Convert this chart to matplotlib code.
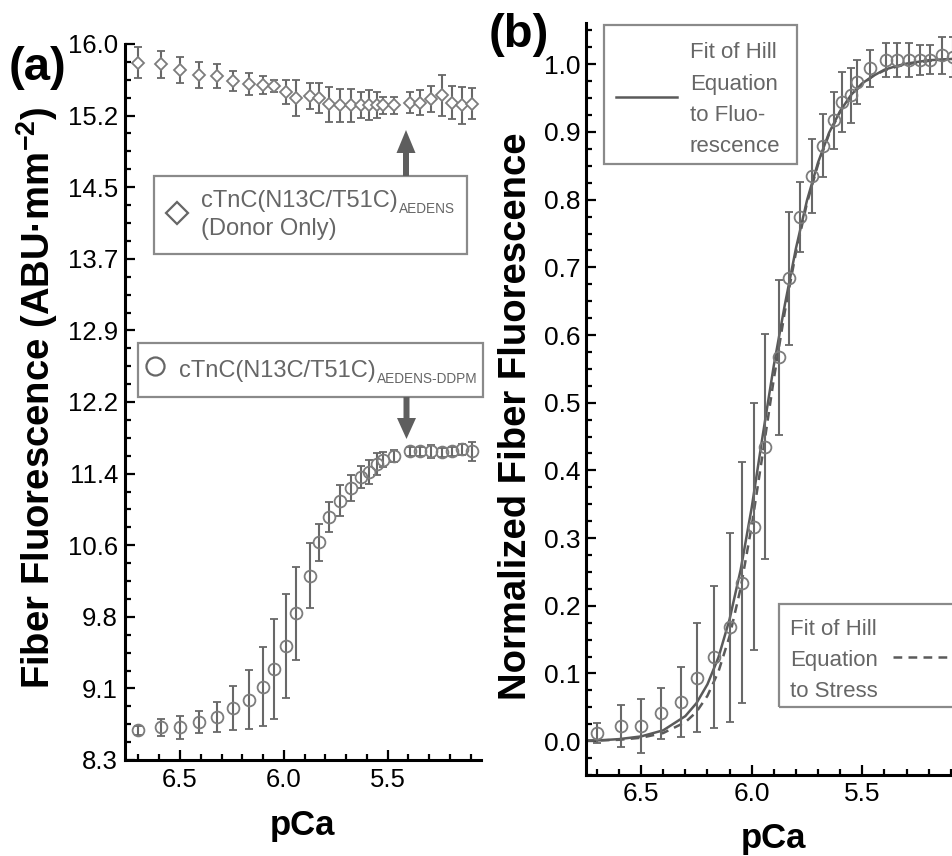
"""Two-panel pCa titration: raw fiber fluorescence (a) and normalized fluorescence with Hill fits (b)."""

import matplotlib

matplotlib.use("Agg")
import matplotlib.pyplot as plt
from matplotlib.lines import Line2D
from matplotlib.patches import Polygon, Rectangle
from matplotlib.ticker import FixedLocator, MultipleLocator, FormatStrFormatter

plt.rcParams["font.family"] = ["Liberation Sans", "DejaVu Sans"]
plt.rcParams["mathtext.fontset"] = "custom"
plt.rcParams["mathtext.rm"] = "Liberation Sans"
plt.rcParams["mathtext.bf"] = "Liberation Sans:bold"

W, H = 953, 856

# pCa of each titration step (shared by both panels)
pca = [6.70, 6.59, 6.50, 6.41, 6.32, 6.245, 6.17, 6.10, 6.045, 5.99, 5.94, 5.875, 5.83, 5.78,
       5.727, 5.677, 5.629, 5.59, 5.549, 5.523, 5.467, 5.392, 5.342, 5.29, 5.24, 5.192, 5.14, 5.092]

# panel (a): AEDENS-DDPM (FRET pair)
ddpm_mean = [8.62, 8.65, 8.65, 8.71, 8.76, 8.86, 8.95, 9.09, 9.28, 9.53, 9.88, 10.28, 10.64, 10.91,
             11.09, 11.23, 11.34, 11.40, 11.48, 11.53, 11.57, 11.62, 11.62, 11.62, 11.61, 11.62, 11.64, 11.62]
ddpm_err = [0.05, 0.09, 0.12, 0.12, 0.16, 0.24, 0.32, 0.42, 0.54, 0.56, 0.50, 0.35, 0.20, 0.16,
            0.17, 0.14, 0.12, 0.13, 0.12, 0.08, 0.06, 0.05, 0.05, 0.07, 0.05, 0.05, 0.06, 0.10]

# panel (a): AEDENS donor only
donor_mean = [15.80, 15.78, 15.72, 15.67, 15.66, 15.60, 15.57, 15.56, 15.55, 15.48, 15.42, 15.44, 15.42, 15.35,
              15.34, 15.34, 15.34, 15.34, 15.34, 15.34, 15.34, 15.37, 15.37, 15.41, 15.45, 15.37, 15.34, 15.36]
donor_err = [0.165, 0.15, 0.14, 0.14, 0.13, 0.11, 0.12, 0.10, 0.065, 0.13, 0.19, 0.14, 0.16, 0.19,
             0.18, 0.18, 0.14, 0.16, 0.14, 0.09, 0.09, 0.11, 0.13, 0.14, 0.22, 0.18, 0.20, 0.17]

a_ytick_values = [8.3, 9.07, 9.84, 10.61, 11.38, 12.15, 12.92, 13.69, 14.46, 15.23, 16.0]
a_ytick_labels = ["8.3", "9.1", "9.8", "10.6", "11.4", "12.2", "12.9", "13.7", "14.5", "15.2", "16.0"]

# panel (b): normalized fluorescence
norm_mean = [0.012, 0.023, 0.023, 0.041, 0.058, 0.094, 0.124, 0.168, 0.234, 0.317, 0.435, 0.567, 0.684, 0.774,
             0.835, 0.880, 0.917, 0.944, 0.954, 0.974, 0.994, 1.006, 1.006, 1.006, 1.006, 1.007, 1.013, 1.011]
norm_err = [0.015, 0.031, 0.040, 0.038, 0.052, 0.080, 0.105, 0.139, 0.178, 0.183, 0.166, 0.114, 0.098, 0.052,
            0.054, 0.047, 0.042, 0.044, 0.041, 0.032, 0.027, 0.025, 0.025, 0.025, 0.022, 0.022, 0.027, 0.030]

# Hill fit curves
fit_pca = [6.75, 6.70, 6.60, 6.50, 6.40, 6.30, 6.25, 6.20, 6.15, 6.10, 6.05, 6.00, 5.95, 5.90, 5.85,
           5.80, 5.75, 5.70, 5.65, 5.60, 5.55, 5.50, 5.45, 5.40, 5.35, 5.30, 5.20, 5.09]
fit_fluor = [0.001, 0.001, 0.003, 0.007, 0.016, 0.037, 0.056, 0.084, 0.124, 0.180, 0.253, 0.345, 0.452, 0.555, 0.645,
             0.728, 0.799, 0.855, 0.899, 0.931, 0.955, 0.972, 0.983, 0.992, 0.997, 1.001, 1.006, 1.008]
fit_stress = [0.0005, 0.001, 0.002, 0.005, 0.012, 0.028, 0.043, 0.067, 0.103, 0.155, 0.226, 0.318, 0.425, 0.535, 0.635,
              0.722, 0.795, 0.852, 0.897, 0.930, 0.954, 0.971, 0.983, 0.991, 0.996, 1.000, 1.005, 1.008]

MARKER = "#7c7c7c"
ERR = "#686868"
TEXT = "#666666"
BOX = "#8a8a8a"
DARK = "#5e5e5e"


def fx(x):
    return x / W


def fy(y):
    return 1 - y / H


def style_axis(ax, tick_size):
    for side in ("top", "right"):
        ax.spines[side].set_visible(False)
    for side in ("left", "bottom"):
        ax.spines[side].set_linewidth(2.2)
    ax.tick_params(which="both", direction="in", width=1.6, labelsize=tick_size)
    ax.tick_params(which="major", length=7)
    ax.tick_params(which="minor", length=4)
    ax.xaxis.set_major_locator(FixedLocator([6.5, 6.0, 5.5]))
    ax.xaxis.set_major_formatter(FormatStrFormatter("%.1f"))
    ax.xaxis.set_minor_locator(MultipleLocator(0.1))


def box(fig, x0, y0, x1, y1):
    fig.add_artist(Rectangle((fx(x0), fy(y1)), fx(x1) - fx(x0), fy(y0) - fy(y1),
                             transform=fig.transFigure, fill=False, edgecolor=BOX, linewidth=1.6))


def arrow(fig, x, y_base, y_neck, y_tip):
    pts = [(x - 3, y_base), (x + 3, y_base), (x + 3, y_neck), (x + 9.5, y_neck),
           (x, y_tip), (x - 9.5, y_neck), (x - 3, y_neck)]
    fig.add_artist(Polygon([(fx(px), fy(py)) for px, py in pts], closed=True,
                           transform=fig.transFigure, facecolor=DARK, edgecolor="none"))


fig = plt.figure(figsize=(W / 100, H / 100), dpi=100)

# ---- panel (a)
ax_a = fig.add_axes([fx(125), fy(760), fx(481) - fx(125), fy(44) - fy(760)])
style_axis(ax_a, 18.5)
ax_a.errorbar(pca, donor_mean, yerr=donor_err, fmt="D", ms=6, mfc="white", mec=MARKER, mew=1.3,
              ecolor=ERR, elinewidth=1.5, capsize=3.2, capthick=1.5)
ax_a.errorbar(pca, ddpm_mean, yerr=ddpm_err, fmt="o", ms=8.5, mfc="none", mec=MARKER, mew=1.3,
              ecolor=ERR, elinewidth=1.5, capsize=3.2, capthick=1.5)
ax_a.set_xlim(6.765, 5.05)
ax_a.set_ylim(8.3, 16.0)
ax_a.yaxis.set_major_locator(FixedLocator(a_ytick_values))
ax_a.yaxis.set_ticklabels(a_ytick_labels)
ax_a.yaxis.set_minor_locator(FixedLocator(
    [a_ytick_values[i] + k * (a_ytick_values[1] - a_ytick_values[0]) / 4
     for i in range(len(a_ytick_values) - 1) for k in (1, 2, 3)]))
ax_a.tick_params(axis="y", pad=5)
ax_a.tick_params(axis="x", pad=6)

# ---- panel (b)
ax_b = fig.add_axes([fx(586), fy(775), fx(953) - fx(586), fy(23) - fy(775)])
style_axis(ax_b, 19)
ax_b.plot(fit_pca, fit_stress, color="#5a5a5a", lw=1.8, ls=(0, (3.5, 2.5)))
ax_b.plot(fit_pca, fit_fluor, color="#5a5a5a", lw=1.8)
ax_b.errorbar(pca, norm_mean, yerr=norm_err, fmt="o", ms=8.5, mfc="none", mec=MARKER, mew=1.3,
              ecolor=ERR, elinewidth=1.5, capsize=3.2, capthick=1.5)
ax_b.set_xlim(6.749, 5.09)
ax_b.set_ylim(-0.05, 1.061)
ax_b.yaxis.set_major_locator(MultipleLocator(0.1))
ax_b.yaxis.set_major_formatter(FormatStrFormatter("%.1f"))
ax_b.yaxis.set_minor_locator(MultipleLocator(0.025))
ax_b.tick_params(axis="y", pad=4)
ax_b.tick_params(axis="x", pad=5)

# ---- axis titles and panel letters
fig.text(fx(37), fy(398), r"Fiber Fluorescence (ABU·mm$^{\mathbf{-2}}$)", rotation=90,
         ha="center", va="center", fontsize=27.5, fontweight="bold")
fig.text(fx(516), fy(416), "Normalized Fiber Fluorescence", rotation=90,
         ha="center", va="center", fontsize=27.5, fontweight="bold")
fig.text(fx(302), fy(835), "pCa", ha="center", va="baseline", fontsize=25, fontweight="bold")
fig.text(fx(773), fy(848), "pCa", ha="center", va="baseline", fontsize=25, fontweight="bold")
fig.text(fx(9), fy(80), "(a)", ha="left", va="baseline", fontsize=34, fontweight="bold")
fig.text(fx(489), fy(47), "(b)", ha="left", va="baseline", fontsize=34, fontweight="bold")

# ---- legend boxes of panel (a)
box(fig, 154, 176, 467, 254)
fig.add_artist(Line2D([fx(177)], [fy(213)], transform=fig.transFigure, marker="D", ms=11,
                      mfc="none", mec=TEXT, mew=1.6, ls="none"))
fig.text(fx(201), fy(207), "cTnC(N13C/T51C)", fontsize=17, color=TEXT, va="baseline")
fig.text(fx(399), fy(213), "AEDENS", fontsize=9.8, color=TEXT, va="baseline")
fig.text(fx(201), fy(235), "(Donor Only)", fontsize=17, color=TEXT, va="baseline")
arrow(fig, 406, 176, 153, 130)

box(fig, 138, 343, 483, 397)
fig.add_artist(Line2D([fx(155)], [fy(366)], transform=fig.transFigure, marker="o", ms=13,
                      mfc="none", mec=TEXT, mew=1.6, ls="none"))
fig.text(fx(179), fy(377), "cTnC(N13C/T51C)", fontsize=17, color=TEXT, va="baseline")
fig.text(fx(377), fy(383), "AEDENS-DDPM", fontsize=9.8, color=TEXT, va="baseline")
arrow(fig, 406.5, 397, 418, 439)

# ---- legend boxes of panel (b)
box(fig, 604, 25, 797, 164)
fig.add_artist(Line2D([fx(616), fx(677)], [fy(97), fy(97)], transform=fig.transFigure,
                      color="#5a5a5a", lw=1.8))
for text, base in zip(["Fit of Hill", "Equation", "to Fluo-", "rescence"], [58, 90, 121, 152]):
    fig.text(fx(690), fy(base), text, fontsize=16, color=TEXT, va="baseline")

box(fig, 779, 604, 975, 707)
fig.add_artist(Line2D([fx(893), fx(953)], [fy(657), fy(657)], transform=fig.transFigure,
                      color="#5a5a5a", lw=1.8, ls=(0, (3.5, 2.5))))
for text, base in zip(["Fit of Hill", "Equation", "to Stress"], [635, 666, 697]):
    fig.text(fx(790), fy(base), text, fontsize=16, color=TEXT, va="baseline")

fig.savefig("out.png", dpi=100)
